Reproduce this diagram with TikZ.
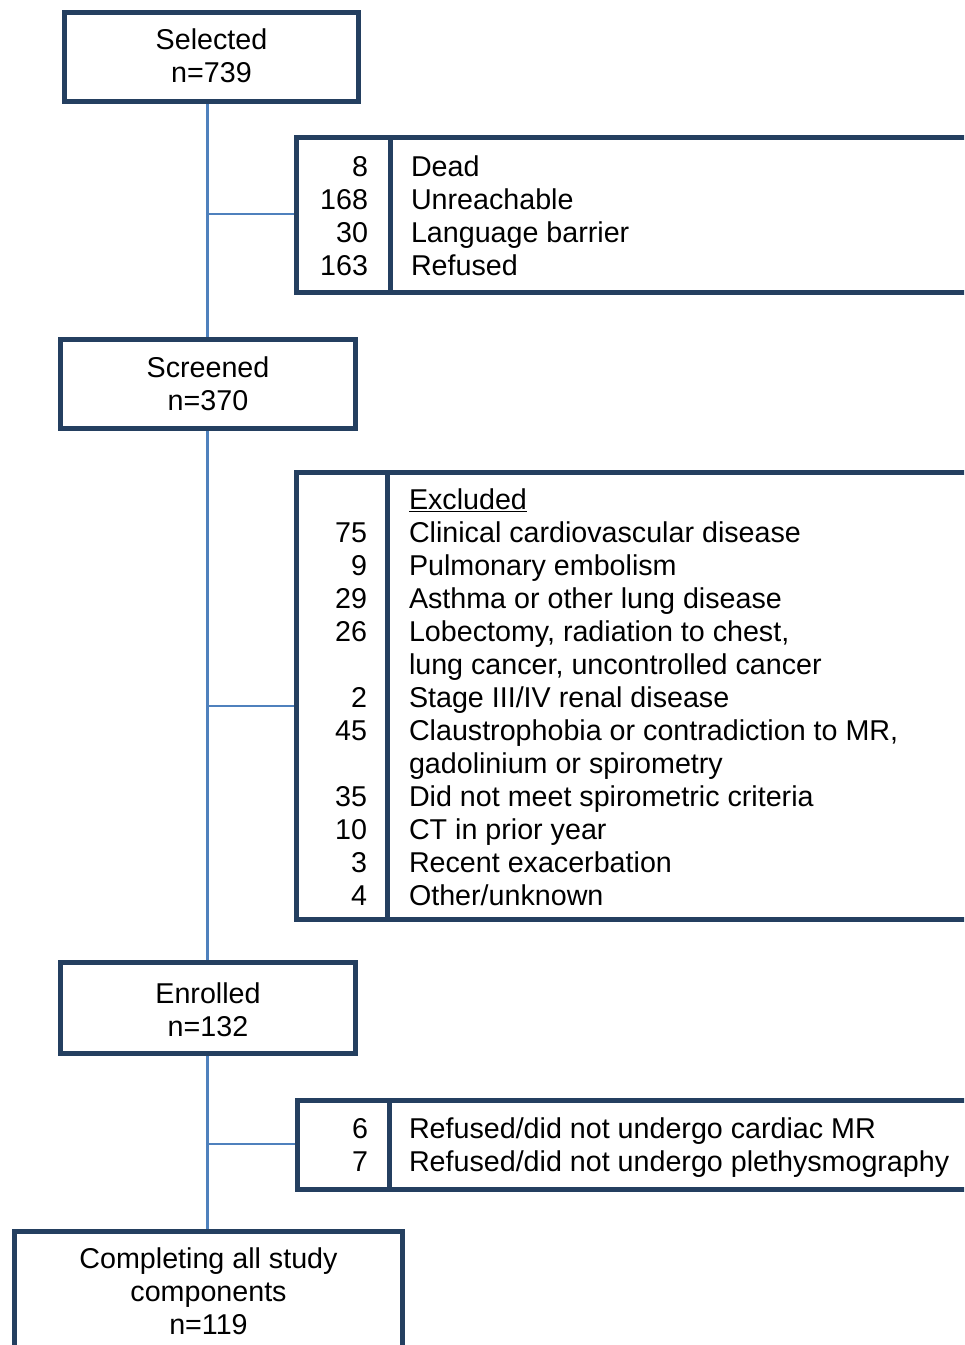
\documentclass[tikz,border=0pt]{standalone}
\usepackage{fontspec}
\setmainfont{Liberation Sans}
\usetikzlibrary{calc,backgrounds}
\definecolor{navy}{HTML}{243F60}
\definecolor{linkblue}{HTML}{4F81BD}
\begin{document}
\begin{tikzpicture}[x=0.75pt,y=-0.75pt,
  bord/.style={draw=navy,line width=3.75pt},
  box/.style={bord,fill=white,rectangle,inner sep=0pt,outer sep=0pt},
  conn/.style={draw=linkblue,line width=1.6pt},
  txt/.style={inner sep=0pt,outer sep=0pt,font=\fontsize{21.5}{25}\selectfont,text=black},
  cnum/.style={txt,anchor=base east},
  clab/.style={txt,anchor=base west},
  ctr/.style={txt,anchor=base}]
\clip (0,0) rectangle (964,1345);
% main boxes
\node[box,minimum width=294*0.75pt,minimum height=89*0.75pt] (sel) at (211.5,57) {};
\node[box,minimum width=295*0.75pt,minimum height=89*0.75pt] (scr) at (208,384) {};
\node[box,minimum width=295*0.75pt,minimum height=91*0.75pt] (enr) at (208,1008) {};
\node[box,minimum width=388*0.75pt,minimum height=168.5*0.75pt] (comp) at (208.5,1315.75) {};
% side boxes
\node[box,minimum width=704*0.75pt,minimum height=155.5*0.75pt] (s1) at (648,214.75) {};
\node[box,minimum width=703.5*0.75pt,minimum height=447.5*0.75pt] (s2) at (648.25,695.75) {};
\node[box,minimum width=702.5*0.75pt,minimum height=89.5*0.75pt] (s3) at (648.75,1144.75) {};
% dividers
\draw[bord] ($(s1.north west)+(94,0)$) coordinate (d1) -- (d1 |- s1.south);
\draw[bord] ($(s2.north west)+(91,0)$) coordinate (d2) -- (d2 |- s2.south);
\draw[bord] ($(s3.north west)+(91.5,0)$) coordinate (d3) -- (d3 |- s3.south);
% connectors
\coordinate (b1) at (207.5,214);
\coordinate (b2) at (207.5,706);
\coordinate (b3) at (207.5,1144);
\begin{scope}[on background layer]
\fill[white] (0,0) rectangle (964,1345);
\draw[conn] (b1 |- sel.south) -- (b1 |- scr.north);
\draw[conn] (b2 |- scr.south) -- (b2 |- enr.north);
\draw[conn] (b3 |- enr.south) -- (b3 |- comp.north);
\draw[conn] (b1) -- (b1 -| s1.west);
\draw[conn] (b2) -- (b2 -| s2.west);
\draw[conn] (b3) -- (b3 -| s3.west);
\end{scope}
% main texts
\node[ctr] (t1a) at (211.5,49.5) {Selected};
\node[ctr] (t1b) at (211.5,82.5) {n=739};
\node[ctr] (t2a) at (208,377.5) {Screened};
\node[ctr] (t2b) at (208,410.5) {n=370};
\node[ctr] (t3a) at (208,1003.5) {Enrolled};
\node[ctr] (t3b) at (208,1036.5) {n=132};
\node[ctr] (t4a) at (208.5,1268.5) {Completing all study};
\node[ctr] (t4b) at (208.5,1301.5) {components};
\node[ctr] (t4c) at (208.5,1334.5) {n=119};
% side box 1
\node[cnum] (a1n) at (368,176) {8};
\node[cnum] (a2n) at (368,209) {168};
\node[cnum] (a3n) at (368,242) {30};
\node[cnum] (a4n) at (368,275) {163};
\node[clab] (a1t) at (411,176) {Dead};
\node[clab] (a2t) at (411,209) {Unreachable};
\node[clab] (a3t) at (411,242) {Language barrier};
\node[clab] (a4t) at (411,275) {Refused};
% side box 2
\node[clab] (e0t) at (409,509.5) {\underline{Excluded}};
\node[cnum] (e1n) at (367,542.5) {75};
\node[clab] (e1t) at (409,542.5) {Clinical cardiovascular disease};
\node[cnum] (e2n) at (367,575.5) {9};
\node[clab] (e2t) at (409,575.5) {Pulmonary embolism};
\node[cnum] (e3n) at (367,608.5) {29};
\node[clab] (e3t) at (409,608.5) {Asthma or other lung disease};
\node[cnum] (e4n) at (367,641.5) {26};
\node[clab] (e4t) at (409,641.5) {Lobectomy, radiation to chest,};
\node[clab] (e5t) at (409,674.5) {lung cancer, uncontrolled cancer};
\node[cnum] (e6n) at (367,707.5) {2};
\node[clab] (e6t) at (409,707.5) {Stage III/IV renal disease};
\node[cnum] (e7n) at (367,740.5) {45};
\node[clab] (e7t) at (409,740.5) {Claustrophobia or contradiction to MR,};
\node[clab] (e8t) at (409,773.5) {gadolinium or spirometry};
\node[cnum] (e9n) at (367,806.5) {35};
\node[clab] (e9t) at (409,806.5) {Did not meet spirometric criteria};
\node[cnum] (e10n) at (367,839.5) {10};
\node[clab] (e10t) at (409,839.5) {CT in prior year};
\node[cnum] (e11n) at (367,872.5) {3};
\node[clab] (e11t) at (409,872.5) {Recent exacerbation};
\node[cnum] (e12n) at (367,905.5) {4};
\node[clab] (e12t) at (409,905.5) {Other/unknown};
% side box 3
\node[cnum] (r1n) at (368,1138.5) {6};
\node[clab] (r1t) at (409,1138.5) {Refused/did not undergo cardiac MR};
\node[cnum] (r2n) at (368,1171.5) {7};
\node[clab] (r2t) at (409,1171.5) {Refused/did not undergo plethysmography};
\end{tikzpicture}
\end{document}
